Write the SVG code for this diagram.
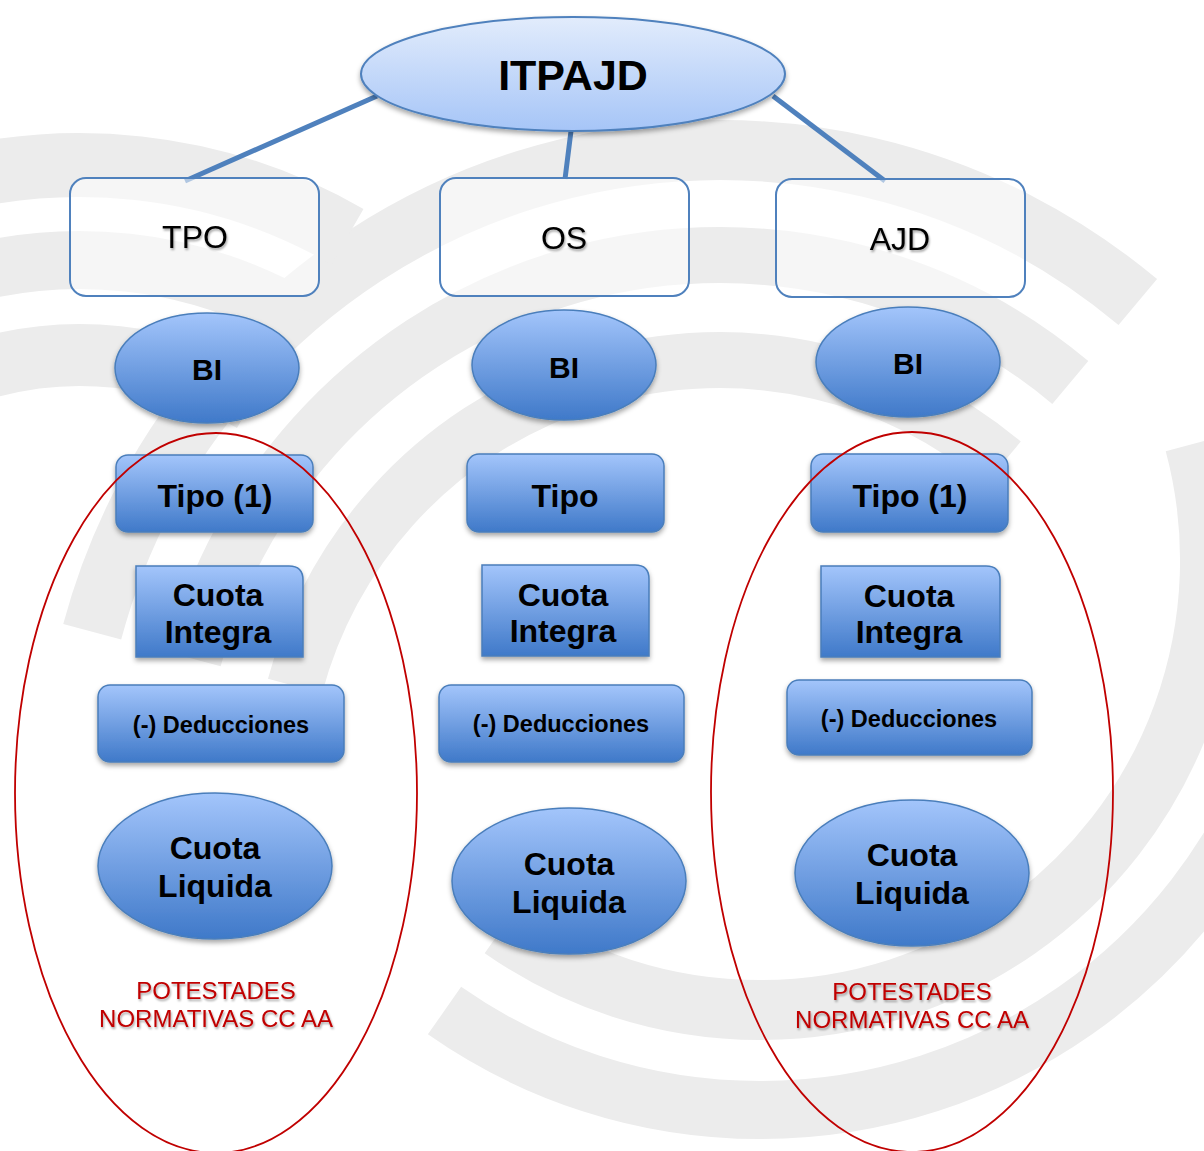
<svg xmlns="http://www.w3.org/2000/svg" width="1204" height="1151" viewBox="0 0 1204 1151">
  <defs>
    <linearGradient id="gLight" x1="0" y1="0" x2="0" y2="1">
      <stop offset="0" stop-color="#e2ecfc"/>
      <stop offset="1" stop-color="#a6c5f7"/>
    </linearGradient>
    <linearGradient id="gBlue" x1="0" y1="0" x2="0" y2="1">
      <stop offset="0" stop-color="#a3c5fb"/>
      <stop offset="1" stop-color="#3f79c9"/>
    </linearGradient>
    <filter id="shadow" x="-20%" y="-20%" width="140%" height="150%">
      <feDropShadow dx="0" dy="3" stdDeviation="2.5" flood-color="#000" flood-opacity="0.35"/>
    </filter>
    <filter id="tshadow" x="-10%" y="-20%" width="120%" height="160%">
      <feDropShadow dx="1" dy="2" stdDeviation="1.2" flood-color="#000" flood-opacity="0.35"/>
    </filter>
    <style>
      .wm { fill: none; stroke: #ececec; }
      .conn { stroke: #4f81bd; stroke-width: 5; fill: none; }
      .top { fill: url(#gLight); stroke: #4f81bd; stroke-width: 2; filter: url(#shadow); }
      .box { fill: #ffffff; fill-opacity: 0.55; stroke: #4f81bd; stroke-width: 2; }
      .blue { fill: url(#gBlue); stroke: #4a7ebb; stroke-width: 1.5; filter: url(#shadow); }
      .red { fill: none; stroke: #c00000; stroke-width: 1.8; }
      text { font-family: "Liberation Sans", Arial, sans-serif; text-anchor: middle; fill: #000; }
      .b { font-weight: bold; }
      .t40 { font-size: 43px; }
      .t30 { font-size: 32px; }
      .bi { font-size: 30px; }
      .t32 { font-size: 32px; }
      .t22 { font-size: 23.5px; }
      .rt { font-size: 24px; fill: #c00000; filter: url(#tshadow); }
      .ts { filter: url(#tshadow); }
    </style>
  </defs>

  <rect x="0" y="0" width="1204" height="1151" fill="#ffffff"/>

  <g id="watermark">
    <path class="wm" stroke-width="60" d="M 92.2 631.8 A 650 650 0 0 1 1137.8 302.1"/>
    <path class="wm" stroke-width="56" d="M 193.6 659 A 545 545 0 0 1 1070.3 382.5"/>
    <path class="wm" stroke-width="56" d="M 295 686.1 A 440 440 0 0 1 1002.8 463"/>
    <path class="wm" stroke-width="64" d="M -422.7 517 A 535 535 0 0 1 347.5 236.7"/>
    <path class="wm" stroke-width="58" d="M -333.5 549.5 A 440 440 0 0 1 300 319"/>
    <path class="wm" stroke-width="62" d="M -244.2 582 A 345 345 0 0 1 252.5 401.2"/>
    <path class="wm" stroke-width="60" d="M 1194.7 443.5 A 450 450 0 0 1 501.9 928.6"/>
    <path class="wm" stroke-width="58" d="M 1291.2 417.7 A 550 550 0 0 1 444.5 1010.6"/>
  </g>

  <g id="connectors">
    <line class="conn" x1="377" y1="96" x2="185" y2="181"/>
    <line class="conn" x1="571" y1="131" x2="565" y2="179"/>
    <line class="conn" x1="773" y1="96" x2="885" y2="181"/>
  </g>

  <g id="itpajd">
    <ellipse class="top" cx="573" cy="74" rx="212" ry="57"/>
    <text class="b t40" x="573" y="90">ITPAJD</text>
  </g>

  <g id="tpo">
    <rect class="box" x="70" y="178" width="249" height="118" rx="16"/>
    <text class="t30 ts" x="195" y="248">TPO</text>
  </g>
  <g id="os">
    <rect class="box" x="440" y="178" width="249" height="118" rx="16"/>
    <text class="t30 ts" x="564" y="249">OS</text>
  </g>
  <g id="ajd">
    <rect class="box" x="776" y="179" width="249" height="118" rx="16"/>
    <text class="t30 ts" x="900" y="250">AJD</text>
  </g>

  <g id="bi-tpo">
    <ellipse class="blue" cx="207" cy="368" rx="92" ry="55"/>
    <text class="b bi" x="207" y="380">BI</text>
  </g>
  <g id="bi-os">
    <ellipse class="blue" cx="564" cy="365" rx="92" ry="55"/>
    <text class="b bi" x="564" y="378">BI</text>
  </g>
  <g id="bi-ajd">
    <ellipse class="blue" cx="908" cy="362" rx="92" ry="55"/>
    <text class="b bi" x="908" y="374">BI</text>
  </g>

  <g id="tipo-tpo">
    <rect class="blue" x="116" y="455" width="197" height="77" rx="12"/>
    <text class="b t32" x="215" y="507">Tipo (1)</text>
  </g>
  <g id="tipo-os">
    <rect class="blue" x="467" y="454" width="197" height="78" rx="12"/>
    <text class="b t32" x="565" y="507">Tipo</text>
  </g>
  <g id="tipo-ajd">
    <rect class="blue" x="811" y="454" width="197" height="78" rx="12"/>
    <text class="b t32" x="910" y="507">Tipo (1)</text>
  </g>

  <g id="ci-tpo">
    <path class="blue" d="M 136 566 H 289 Q 303 566 303 580 V 657 H 136 Z"/>
    <text class="b t32" x="218" y="606">Cuota</text>
    <text class="b t32" x="218" y="643">Integra</text>
  </g>
  <g id="ci-os">
    <path class="blue" d="M 482 565 H 635 Q 649 565 649 579 V 656 H 482 Z"/>
    <text class="b t32" x="563" y="606">Cuota</text>
    <text class="b t32" x="563" y="642">Integra</text>
  </g>
  <g id="ci-ajd">
    <path class="blue" d="M 821 566 H 986 Q 1000 566 1000 580 V 657 H 821 Z"/>
    <text class="b t32" x="909" y="607">Cuota</text>
    <text class="b t32" x="909" y="643">Integra</text>
  </g>

  <g id="ded-tpo">
    <rect class="blue" x="98" y="685" width="246" height="77" rx="12"/>
    <text class="b t22" x="221" y="733">(-) Deducciones</text>
  </g>
  <g id="ded-os">
    <rect class="blue" x="439" y="685" width="245" height="77" rx="12"/>
    <text class="b t22" x="561" y="732">(-) Deducciones</text>
  </g>
  <g id="ded-ajd">
    <rect class="blue" x="787" y="680" width="245" height="75" rx="12"/>
    <text class="b t22" x="909" y="727">(-) Deducciones</text>
  </g>

  <g id="cl-tpo">
    <ellipse class="blue" cx="215" cy="866" rx="117" ry="73"/>
    <text class="b t32" x="215" y="859">Cuota</text>
    <text class="b t32" x="215" y="897">Liquida</text>
  </g>
  <g id="cl-os">
    <ellipse class="blue" cx="569" cy="881" rx="117" ry="73"/>
    <text class="b t32" x="569" y="875">Cuota</text>
    <text class="b t32" x="569" y="913">Liquida</text>
  </g>
  <g id="cl-ajd">
    <ellipse class="blue" cx="912" cy="873" rx="117" ry="73"/>
    <text class="b t32" x="912" y="866">Cuota</text>
    <text class="b t32" x="912" y="904">Liquida</text>
  </g>

  <g id="potestades-left">
    <ellipse class="red" cx="216" cy="793" rx="201" ry="360"/>
    <text class="rt" x="216" y="999">POTESTADES</text>
    <text class="rt" x="216" y="1027">NORMATIVAS CC AA</text>
  </g>
  <g id="potestades-right">
    <ellipse class="red" cx="912" cy="792" rx="201" ry="360"/>
    <text class="rt" x="912" y="1000">POTESTADES</text>
    <text class="rt" x="912" y="1028">NORMATIVAS CC AA</text>
  </g>
</svg>
